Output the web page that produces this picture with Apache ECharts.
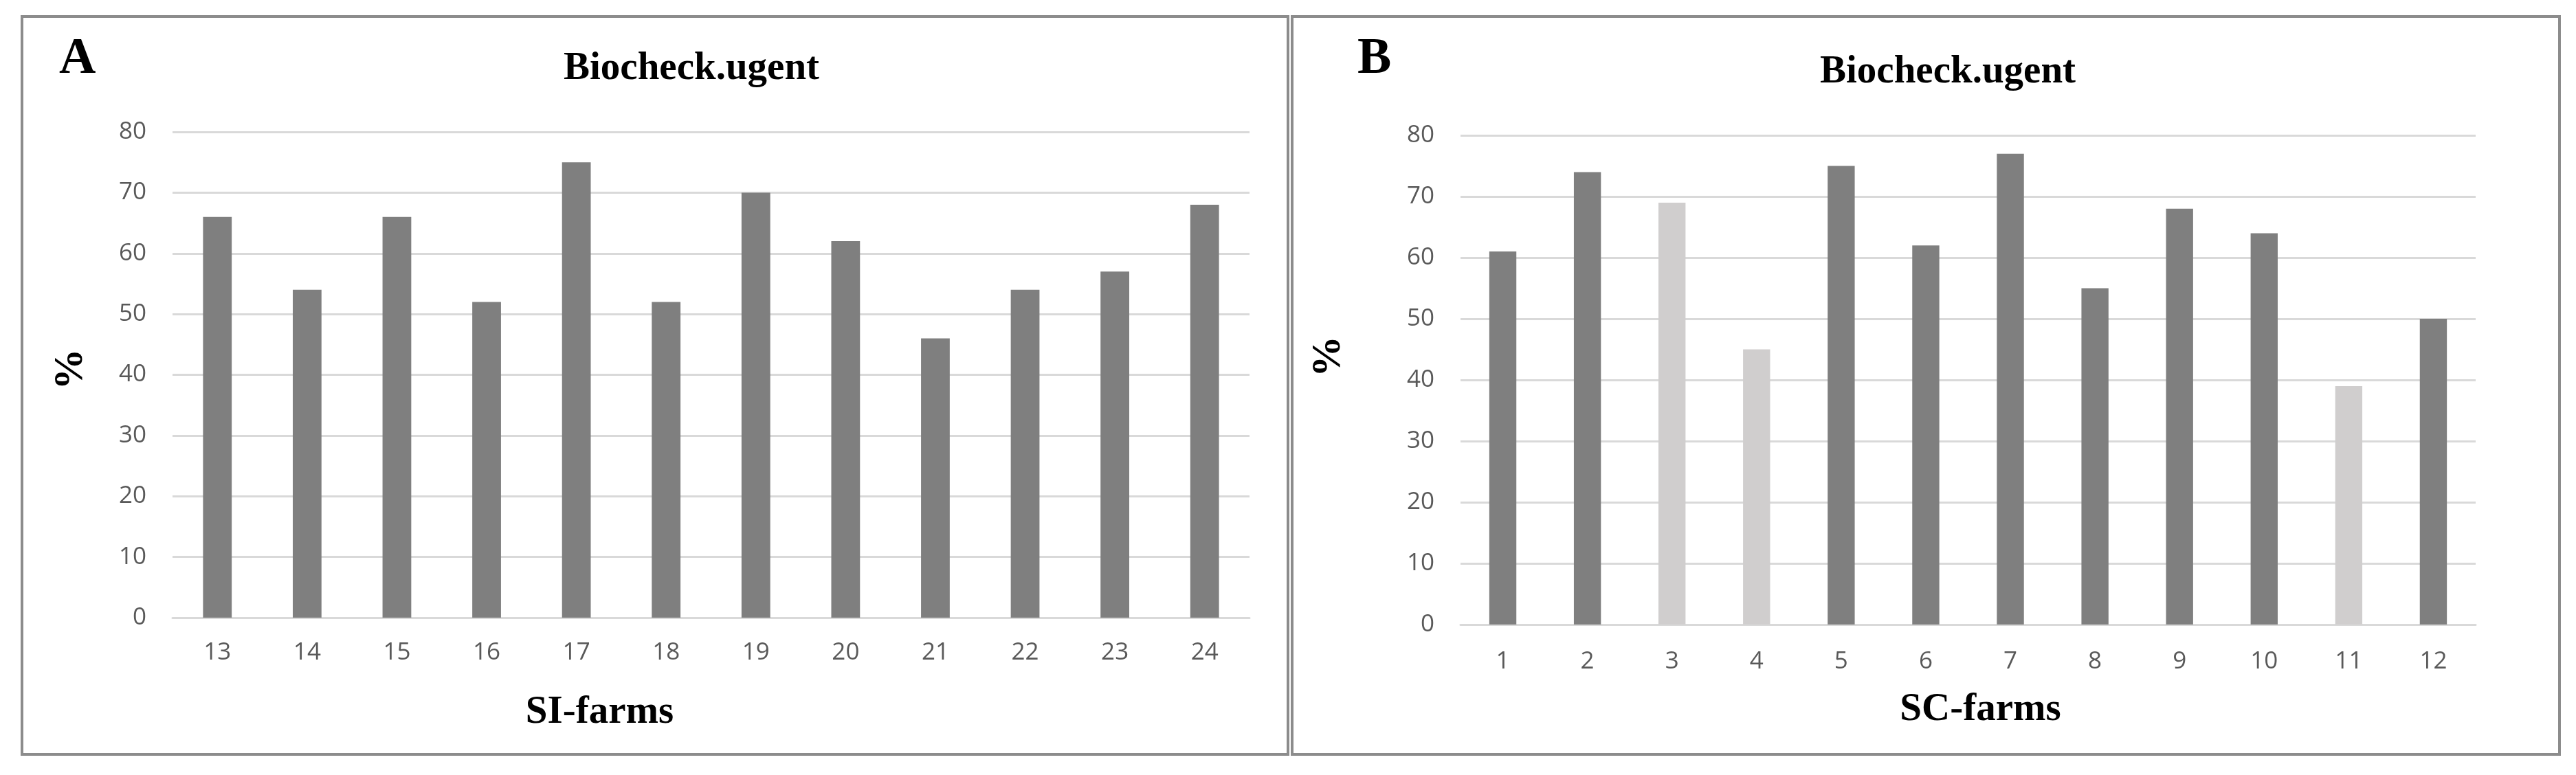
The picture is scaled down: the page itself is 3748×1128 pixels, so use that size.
<!DOCTYPE html>
<html>
<head>
<meta charset="utf-8">
<script src="https://cdn.jsdelivr.net/npm/echarts@6/dist/echarts.min.js"></script>
<style>
html,body{margin:0;padding:0;background:#fff;}
#chart{width:3748px;height:1128px;}
</style>
</head>
<body>
<div id="chart"></div>
<script>
// ---- data ----
const siFarms = ['13','14','15','16','17','18','19','20','21','22','23','24'];
const siValues = [66, 54, 66, 52, 75, 52, 70, 62, 46, 54, 57, 68];
const scFarms = ['1','2','3','4','5','6','7','8','9','10','11','12'];
const scValues = [61, 74, 69, 45, 75, 62, 77, 55, 68, 64, 39, 50];
const scLightFarms = ['3','4','11'];
const yTicks = [0, 10, 20, 30, 40, 50, 60, 70, 80];
const panelLetters = ['A', 'B'];
const chartTitle = 'Biocheck.ugent';
const xNames = ['SI-farms', 'SC-farms'];
const yName = '%';

// ---- styles ----
const DARK = '#7f7f7f';
const LIGHT = '#d0cece';
const GRID = '#d9d9d9';
const LABEL = '#595959';
const SERIF = '"Liberation Serif", "DejaVu Serif", serif';
const SANS = '"Open Sans", "Noto Sans", sans-serif';

const chart = echarts.init(document.getElementById('chart'), null, {renderer: 'canvas'});

function yAxisCfg(gridIndex, nameGap, shiftUp) {
  return {
    type: 'value', gridIndex: gridIndex,
    min: yTicks[0], max: yTicks[yTicks.length - 1], interval: yTicks[1] - yTicks[0],
    name: yName, nameLocation: 'middle', nameRotate: 90, nameGap: nameGap,
    nameTextStyle: {fontFamily: SERIF, fontWeight: 'bold', fontSize: 60, color: '#000',
                    padding: [0, 0, 0, shiftUp * 2]},
    axisLine: {show: false}, axisTick: {show: false},
    axisLabel: {color: LABEL, fontFamily: SANS, fontSize: 35, margin: 38},
    splitLine: {show: true, lineStyle: {color: GRID, width: 3}}
  };
}
function xAxisCfg(gridIndex, cats, name, nameGap, shiftX, labelMargin) {
  const pad = shiftX < 0 ? [0, -shiftX * 2, 0, 0] : [0, 0, 0, shiftX * 2];
  return {
    type: 'category', gridIndex: gridIndex, data: cats,
    name: name, nameLocation: 'middle', nameGap: nameGap,
    nameTextStyle: {fontFamily: SERIF, fontWeight: 'bold', fontSize: 57, color: '#000', padding: pad},
    axisLine: {show: true, lineStyle: {color: GRID, width: 3}},
    axisTick: {show: false},
    axisLabel: {color: LABEL, fontFamily: SANS, fontSize: 35, margin: labelMargin},
    splitLine: {show: false}
  };
}

const option = {
  backgroundColor: '#fff',
  animation: false,
  title: [
    {text: panelLetters[0], left: 86, top: 50, padding: 0,
     textStyle: {fontFamily: SERIF, fontWeight: 'bold', fontSize: 74, color: '#000'}},
    {text: panelLetters[1], left: 1975, top: 50, padding: 0,
     textStyle: {fontFamily: SERIF, fontWeight: 'bold', fontSize: 74, color: '#000'}},
    {text: chartTitle, left: 820, top: 72, padding: 0,
     textStyle: {fontFamily: SERIF, fontWeight: 'bold', fontSize: 57, color: '#000'}},
    {text: chartTitle, left: 2648, top: 77, padding: 0,
     textStyle: {fontFamily: SERIF, fontWeight: 'bold', fontSize: 57, color: '#000'}}
  ],
  graphic: [
    {type: 'rect', shape: {x: 32, y: 24, width: 1842, height: 1074},
     style: {fill: 'none', stroke: '#8c8c8c', lineWidth: 4}, silent: true, z: -1},
    {type: 'rect', shape: {x: 1880, y: 24, width: 1844, height: 1074},
     style: {fill: 'none', stroke: '#8c8c8c', lineWidth: 4}, silent: true, z: -1}
  ],
  grid: [
    {left: 251, top: 192, width: 1567, height: 707},
    {left: 2125, top: 197, width: 1477, height: 712}
  ],
  xAxis: [
    xAxisCfg(0, siFarms, xNames[0], 110, -162, 34),
    xAxisCfg(1, scFarms, xNames[1], 96, 18, 37)
  ],
  yAxis: [
    yAxisCfg(0, 118, 8),
    yAxisCfg(1, 162, 34)
  ],
  series: [
    {type: 'bar', xAxisIndex: 0, yAxisIndex: 0, data: siValues,
     barWidth: '32%', itemStyle: {color: DARK}},
    {type: 'bar', xAxisIndex: 1, yAxisIndex: 1,
     data: scValues.map((v, i) => ({
       value: v,
       itemStyle: {color: scLightFarms.indexOf(scFarms[i]) >= 0 ? LIGHT : DARK}
     })),
     barWidth: '32%'}
  ]
};
chart.setOption(option);
</script>
</body>
</html>
